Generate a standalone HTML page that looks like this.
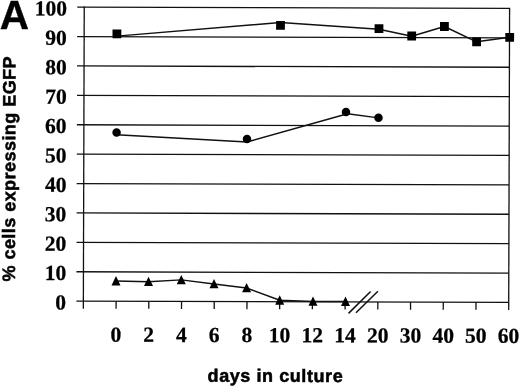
<!DOCTYPE html>
<html><head><meta charset="utf-8"><title>EGFP expression chart</title>
<style>
html,body{margin:0;padding:0;background:#fff;width:520px;height:387px;overflow:hidden}
svg{display:block}
</style></head>
<body>
<svg width="520" height="387" viewBox="0 0 520 387">
<rect width="520" height="387" fill="#fff"/>
<g transform="rotate(0.17 296 155)">
<g stroke="#111" stroke-width="1.3" fill="none" stroke-linecap="butt">
<line x1="76.80" y1="301.80" x2="509.15" y2="301.80"/>
<line x1="76.80" y1="272.40" x2="509.15" y2="272.40"/>
<line x1="76.80" y1="243.00" x2="509.15" y2="243.00"/>
<line x1="76.80" y1="213.60" x2="509.15" y2="213.60"/>
<line x1="76.80" y1="184.20" x2="509.15" y2="184.20"/>
<line x1="76.80" y1="154.80" x2="509.15" y2="154.80"/>
<line x1="76.80" y1="125.40" x2="509.15" y2="125.40"/>
<line x1="76.80" y1="96.00" x2="509.15" y2="96.00"/>
<line x1="76.80" y1="66.60" x2="509.15" y2="66.60"/>
<line x1="76.80" y1="37.20" x2="509.15" y2="37.20"/>
<line x1="76.80" y1="7.80" x2="509.15" y2="7.80"/>
<line x1="83.80" y1="7.15" x2="83.80" y2="309.30"/>
<line x1="509.15" y1="7.15" x2="509.15" y2="309.30"/>
<line x1="116.52" y1="301.80" x2="116.52" y2="309.30"/>
<line x1="149.24" y1="301.80" x2="149.24" y2="309.30"/>
<line x1="181.96" y1="301.80" x2="181.96" y2="309.30"/>
<line x1="214.68" y1="301.80" x2="214.68" y2="309.30"/>
<line x1="247.40" y1="301.80" x2="247.40" y2="309.30"/>
<line x1="280.12" y1="301.80" x2="280.12" y2="309.30"/>
<line x1="312.83" y1="301.80" x2="312.83" y2="309.30"/>
<line x1="345.55" y1="301.80" x2="345.55" y2="309.30"/>
<line x1="378.27" y1="301.80" x2="378.27" y2="309.30"/>
<line x1="410.99" y1="301.80" x2="410.99" y2="309.30"/>
<line x1="443.71" y1="301.80" x2="443.71" y2="309.30"/>
<line x1="476.43" y1="301.80" x2="476.43" y2="309.30"/>
</g>
<g stroke="#111" stroke-width="1.45" fill="none" stroke-linejoin="round">
<polyline points="116.55,36.63 280.11,22.55 378.63,29.05 411.35,35.86 444.02,26.06 476.26,41.26 509.35,36.67"/>
<polyline points="116.44,135.33 246.96,142.15 347.38,113.65 378.39,117.66"/>
<polyline points="116.37,281.63 148.88,282.14 181.67,280.24 214.38,284.24 246.99,288.15 280.13,300.35 313.43,301.45 345.93,301.45"/>
</g>
<g fill="#000">
<rect x="112.14" y="29.93" width="8.8" height="8.8"/>
<rect x="275.72" y="20.95" width="8.8" height="8.8"/>
<rect x="374.22" y="24.05" width="8.8" height="8.8"/>
<rect x="406.95" y="31.26" width="8.8" height="8.8"/>
<rect x="439.62" y="21.66" width="8.8" height="8.8"/>
<rect x="471.86" y="36.86" width="8.8" height="8.8"/>
<rect x="504.95" y="32.37" width="8.8" height="8.8"/>
<circle cx="116.53" cy="132.93" r="4.25"/>
<circle cx="246.95" cy="139.15" r="4.25"/>
<circle cx="345.87" cy="111.85" r="4.25"/>
<circle cx="378.39" cy="117.46" r="4.25"/>
<polygon points="116.37,276.63 120.87,285.98 111.87,285.98"/>
<polygon points="148.88,277.14 153.38,286.49 144.38,286.49"/>
<polygon points="181.67,275.24 186.17,284.59 177.17,284.59"/>
<polygon points="214.38,279.24 218.88,288.59 209.88,288.59"/>
<polygon points="246.99,283.15 251.49,292.50 242.49,292.50"/>
<polygon points="280.13,295.35 284.63,304.70 275.63,304.70"/>
<polygon points="313.43,296.45 317.93,305.80 308.93,305.80"/>
<polygon points="345.93,296.45 350.43,305.80 341.43,305.80"/>
</g>
<g stroke="#111" stroke-width="1.5">
<line x1="348.97" y1="313.24" x2="371.00" y2="291.28"/>
<line x1="356.47" y1="312.62" x2="378.30" y2="291.06"/>
</g>
<g font-family="'Liberation Serif', serif" font-weight="bold" font-size="21.5" fill="#000" stroke="#000" stroke-width="0.25">
<text x="66.5" y="310.20" text-anchor="end">0</text>
<text x="66.5" y="280.80" text-anchor="end">10</text>
<text x="66.5" y="251.40" text-anchor="end">20</text>
<text x="66.5" y="222.00" text-anchor="end">30</text>
<text x="66.5" y="192.60" text-anchor="end">40</text>
<text x="66.5" y="163.20" text-anchor="end">50</text>
<text x="66.5" y="133.80" text-anchor="end">60</text>
<text x="66.5" y="104.40" text-anchor="end">70</text>
<text x="66.5" y="75.00" text-anchor="end">80</text>
<text x="66.5" y="45.60" text-anchor="end">90</text>
<text x="66.5" y="16.20" text-anchor="end">100</text>
<text x="116.52" y="342.25" text-anchor="middle">0</text>
<text x="149.24" y="342.25" text-anchor="middle">2</text>
<text x="181.96" y="342.25" text-anchor="middle">4</text>
<text x="214.68" y="342.25" text-anchor="middle">6</text>
<text x="247.40" y="342.25" text-anchor="middle">8</text>
<text x="280.12" y="342.25" text-anchor="middle">10</text>
<text x="312.83" y="342.25" text-anchor="middle">12</text>
<text x="345.55" y="342.25" text-anchor="middle">14</text>
<text x="378.27" y="342.25" text-anchor="middle">20</text>
<text x="410.99" y="342.25" text-anchor="middle">30</text>
<text x="443.71" y="342.25" text-anchor="middle">40</text>
<text x="476.43" y="342.25" text-anchor="middle">50</text>
<text x="509.15" y="342.25" text-anchor="middle">60</text>
</g>
<g font-family="'Liberation Sans', sans-serif" font-weight="bold" fill="#000" stroke="#000" stroke-width="0.5">
<text x="208.3" y="381.9" font-size="18" letter-spacing="0.57">days in culture</text>
<text transform="translate(15.3 282.3) rotate(-90)" font-size="18" letter-spacing="0.45">% cells expressing EGFP</text>
</g>
</g>
<text x="-0.3" y="29.2" font-family="'Liberation Sans', sans-serif" font-weight="bold" font-size="40.5" fill="#000" stroke="#000" stroke-width="0.4">A</text>
</svg>
</body></html>
